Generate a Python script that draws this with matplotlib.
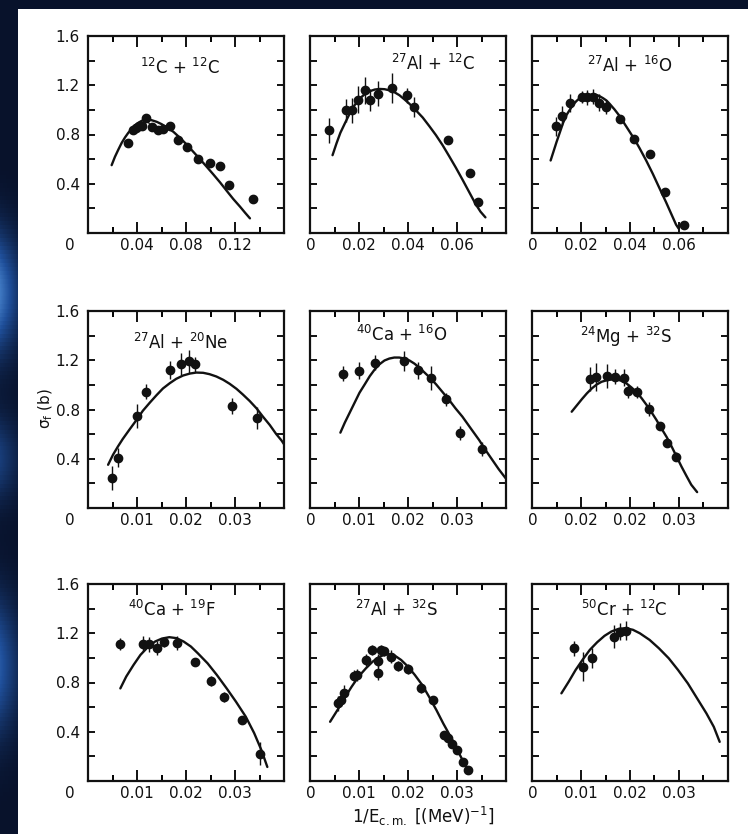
import matplotlib
matplotlib.use("Agg")
import numpy as np
import matplotlib.pyplot as plt
from matplotlib.patches import Rectangle
from matplotlib.colors import LinearSegmentedColormap
from matplotlib.ticker import MultipleLocator, FixedLocator

plt.rcParams['font.family'] = ['DejaVu Sans']
plt.rcParams['mathtext.default'] = 'regular'

# ---------------- data: fission cross sections vs 1/E_cm ----------------
# 12C + 12C
c12c12_x = [0.0329, 0.0365, 0.0392, 0.0420, 0.0440, 0.0473, 0.0520, 0.0574, 0.0615, 0.0669,
            0.0732, 0.0805, 0.0895, 0.0996, 0.1078, 0.1154, 0.1344]
c12c12_y = [0.727, 0.835, 0.854, 0.870, 0.865, 0.930, 0.857, 0.835, 0.843, 0.870,
            0.754, 0.700, 0.605, 0.565, 0.546, 0.389, 0.278]
c12c12_err = [0] * 17
c12c12_fit_x = [0.0193, 0.0220, 0.0248, 0.0275, 0.0302, 0.0329, 0.0357, 0.0384, 0.0411,
                0.0438, 0.0465, 0.0493, 0.0520, 0.0561, 0.0601, 0.0642, 0.0697, 0.0751,
                0.0805, 0.0860, 0.0914, 0.0969, 0.1023, 0.1078, 0.1132, 0.1186, 0.1241,
                0.1282, 0.1322]
c12c12_fit_y = [0.551, 0.619, 0.678, 0.732, 0.776, 0.814, 0.846, 0.876, 0.895,
                0.911, 0.919, 0.922, 0.916, 0.903, 0.884, 0.859, 0.822, 0.773,
                0.719, 0.659, 0.600, 0.538, 0.476, 0.411, 0.343, 0.276, 0.214,
                0.165, 0.119]

# 27Al + 12C
al12c_x = [0.0078, 0.0145, 0.0172, 0.0196, 0.0224, 0.0246, 0.0277, 0.0334, 0.0396, 0.0426,
           0.0564, 0.0655, 0.0686]
al12c_y = [0.835, 0.997, 0.997, 1.084, 1.159, 1.078, 1.132, 1.178, 1.119, 1.024,
           0.754, 0.489, 0.254]
al12c_err = [0.10, 0.095, 0.10, 0.11, 0.11, 0.09, 0.10, 0.12, 0.06, 0.08, 0, 0, 0]
al12c_fit_x = [0.0092, 0.0108, 0.0124, 0.0142, 0.0162, 0.0182, 0.0203, 0.0223, 0.0243,
               0.0264, 0.0284, 0.0304, 0.0324, 0.0345, 0.0365, 0.0385, 0.0405, 0.0432,
               0.0460, 0.0487, 0.0514, 0.0541, 0.0568, 0.0595, 0.0622, 0.0649, 0.0676,
               0.0696, 0.0716]
al12c_fit_y = [0.632, 0.727, 0.814, 0.889, 0.970, 1.038, 1.092, 1.127, 1.151,
               1.165, 1.170, 1.168, 1.159, 1.143, 1.119, 1.086, 1.051, 0.997,
               0.938, 0.868, 0.795, 0.714, 0.624, 0.532, 0.435, 0.335, 0.235,
               0.173, 0.127]

# 27Al + 16O
al16o_x = [0.0098, 0.0121, 0.0154, 0.0203, 0.0226, 0.0247, 0.0272, 0.0300, 0.0358, 0.0416,
           0.0480, 0.0543, 0.0622]
al16o_y = [0.865, 0.954, 1.057, 1.103, 1.103, 1.108, 1.057, 1.022, 0.922, 0.765,
           0.643, 0.332, 0.062]
al16o_err = [0.075, 0.075, 0.075, 0.05, 0.06, 0.06, 0.07, 0.055, 0, 0, 0, 0, 0]
al16o_fit_x = [0.0076, 0.0087, 0.0100, 0.0114, 0.0127, 0.0141, 0.0155, 0.0168, 0.0182,
               0.0195, 0.0209, 0.0222, 0.0236, 0.0249, 0.0263, 0.0276, 0.0290, 0.0304,
               0.0317, 0.0337, 0.0358, 0.0378, 0.0398, 0.0419, 0.0439, 0.0466, 0.0493,
               0.0520, 0.0547, 0.0568, 0.0588, 0.0599]
al16o_fit_y = [0.589, 0.657, 0.738, 0.819, 0.895, 0.959, 1.003, 1.043, 1.073,
               1.095, 1.111, 1.119, 1.122, 1.124, 1.122, 1.111, 1.095, 1.076,
               1.049, 1.003, 0.949, 0.886, 0.824, 0.759, 0.689, 0.589, 0.481,
               0.365, 0.251, 0.157, 0.068, 0.035]

# 27Al + 20Ne
al20ne_x = [0.0048, 0.0061, 0.0101, 0.0118, 0.0167, 0.0190, 0.0207, 0.0218, 0.0294, 0.0344]
al20ne_y = [0.243, 0.410, 0.747, 0.944, 1.119, 1.168, 1.192, 1.168, 0.828, 0.728]
al20ne_err = [0.095, 0.08, 0.10, 0.06, 0.075, 0.09, 0.095, 0.06, 0.065, 0.09]
al20ne_fit_x = [0.0041, 0.0051, 0.0061, 0.0071, 0.0085, 0.0099, 0.0112, 0.0126, 0.0140,
                0.0153, 0.0167, 0.0180, 0.0194, 0.0208, 0.0221, 0.0235, 0.0248, 0.0262,
                0.0276, 0.0289, 0.0303, 0.0316, 0.0330, 0.0344, 0.0357, 0.0371, 0.0384,
                0.0395, 0.0401]
al20ne_fit_y = [0.351, 0.432, 0.499, 0.561, 0.639, 0.715, 0.790, 0.855, 0.917,
                0.971, 1.014, 1.049, 1.076, 1.092, 1.100, 1.098, 1.087, 1.068,
                1.041, 1.009, 0.968, 0.922, 0.869, 0.809, 0.742, 0.674, 0.601,
                0.548, 0.512]

# 40Ca + 16O
ca16o_x = [0.0068, 0.0101, 0.0132, 0.0191, 0.0221, 0.0247, 0.0278, 0.0306, 0.0350]
ca16o_y = [1.092, 1.114, 1.181, 1.195, 1.119, 1.057, 0.882, 0.607, 0.480]
ca16o_err = [0.06, 0.07, 0.06, 0.08, 0.07, 0.10, 0.055, 0.055, 0.06]
ca16o_fit_x = [0.0062, 0.0071, 0.0081, 0.0091, 0.0101, 0.0112, 0.0122, 0.0132, 0.0142,
               0.0152, 0.0162, 0.0172, 0.0182, 0.0193, 0.0203, 0.0213, 0.0223, 0.0233,
               0.0243, 0.0257, 0.0270, 0.0284, 0.0297, 0.0311, 0.0328, 0.0345, 0.0358,
               0.0372, 0.0385, 0.0399]
ca16o_fit_y = [0.612, 0.693, 0.774, 0.855, 0.936, 1.006, 1.071, 1.125, 1.168,
               1.198, 1.214, 1.222, 1.222, 1.214, 1.198, 1.173, 1.141, 1.103,
               1.065, 1.006, 0.944, 0.877, 0.809, 0.742, 0.647, 0.553, 0.472,
               0.391, 0.316, 0.243]

# 24Mg + 32S
mg32s_x = [0.0119, 0.0131, 0.0153, 0.0169, 0.0188, 0.0195, 0.0215, 0.0239, 0.0262, 0.0275, 0.0294]
mg32s_y = [1.047, 1.065, 1.071, 1.065, 1.057, 0.949, 0.944, 0.804, 0.669, 0.526, 0.418]
mg32s_err = [0.10, 0.115, 0.095, 0.06, 0.07, 0.055, 0.05, 0.055, 0, 0, 0.04]
mg32s_fit_x = [0.0081, 0.0092, 0.0102, 0.0112, 0.0122, 0.0132, 0.0142, 0.0153, 0.0163,
               0.0173, 0.0183, 0.0193, 0.0203, 0.0214, 0.0224, 0.0234, 0.0244, 0.0254,
               0.0264, 0.0275, 0.0285, 0.0295, 0.0305, 0.0315, 0.0325, 0.0337]
mg32s_fit_y = [0.782, 0.836, 0.885, 0.931, 0.971, 1.003, 1.025, 1.038, 1.044,
               1.044, 1.033, 1.011, 0.979, 0.939, 0.890, 0.836, 0.777, 0.715,
               0.647, 0.575, 0.499, 0.418, 0.337, 0.262, 0.189, 0.129]

# 40Ca + 19F
ca19f_x = [0.0066, 0.0113, 0.0125, 0.0140, 0.0155, 0.0182, 0.0219, 0.0250, 0.0277, 0.0315, 0.0350]
ca19f_y = [1.111, 1.114, 1.111, 1.078, 1.132, 1.119, 0.970, 0.812, 0.685, 0.494, 0.223]
ca19f_err = [0.05, 0.06, 0.06, 0.055, 0.04, 0.055, 0.03, 0.04, 0.04, 0.03, 0.09]
ca19f_fit_x = [0.0066, 0.0078, 0.0093, 0.0107, 0.0122, 0.0137, 0.0151, 0.0166, 0.0181,
               0.0195, 0.0210, 0.0224, 0.0244, 0.0263, 0.0283, 0.0302, 0.0322, 0.0339,
               0.0354, 0.0366]
ca19f_fit_y = [0.752, 0.848, 0.943, 1.024, 1.087, 1.133, 1.157, 1.168, 1.160,
               1.133, 1.092, 1.038, 0.956, 0.861, 0.752, 0.644, 0.522, 0.390,
               0.250, 0.114]

# 27Al + 32S
al32s_x = [0.0058, 0.0064, 0.0070, 0.0089, 0.0096, 0.0115, 0.0126, 0.0138, 0.0138, 0.0145,
           0.0150, 0.0166, 0.0179, 0.0200, 0.0226, 0.0250, 0.0273, 0.0282, 0.0290, 0.0299,
           0.0313, 0.0322]
al32s_y = [0.630, 0.660, 0.717, 0.853, 0.861, 0.983, 1.065, 0.978, 0.880, 1.065,
           1.052, 1.011, 0.935, 0.907, 0.752, 0.657, 0.372, 0.350, 0.304, 0.250,
           0.155, 0.092]
al32s_err = [0.06, 0.05, 0.06, 0.05, 0.05, 0.05, 0.04, 0.05, 0.06, 0.04,
             0.04, 0.05, 0.04, 0.04, 0.04, 0.03, 0.03, 0.03, 0.03, 0.02,
             0.02, 0.02]
al32s_fit_x = [0.0041, 0.0056, 0.0070, 0.0085, 0.0099, 0.0114, 0.0128, 0.0142, 0.0157,
               0.0171, 0.0186, 0.0200, 0.0214, 0.0229, 0.0243, 0.0258, 0.0272, 0.0287,
               0.0301, 0.0315, 0.0325]
al32s_fit_y = [0.481, 0.576, 0.671, 0.766, 0.847, 0.915, 0.970, 1.010, 1.032,
               1.024, 0.983, 0.929, 0.861, 0.780, 0.684, 0.576, 0.467, 0.359,
               0.250, 0.141, 0.081]

# 50Cr + 12C
cr12c_x = [0.0086, 0.0104, 0.0123, 0.0167, 0.0180, 0.0191]
cr12c_y = [1.078, 0.929, 0.997, 1.173, 1.214, 1.222]
cr12c_err = [0.06, 0.12, 0.08, 0.09, 0.07, 0.08]
cr12c_fit_x = [0.0060, 0.0075, 0.0089, 0.0104, 0.0118, 0.0133, 0.0148, 0.0162, 0.0177,
               0.0191, 0.0206, 0.0220, 0.0240, 0.0259, 0.0279, 0.0298, 0.0318, 0.0337,
               0.0356, 0.0371, 0.0383]
cr12c_fit_y = [0.712, 0.807, 0.902, 0.989, 1.065, 1.127, 1.179, 1.214, 1.236,
               1.241, 1.228, 1.200, 1.146, 1.078, 0.997, 0.902, 0.793, 0.671,
               0.549, 0.440, 0.318]

titles = [r"$^{12}$C + $^{12}$C", r"$^{27}$Al + $^{12}$C", r"$^{27}$Al + $^{16}$O",
          r"$^{27}$Al + $^{20}$Ne", r"$^{40}$Ca + $^{16}$O", r"$^{24}$Mg + $^{32}$S",
          r"$^{40}$Ca + $^{19}$F", r"$^{27}$Al + $^{32}$S", r"$^{50}$Cr + $^{12}$C"]
title_pos = [(0.47, 0.84), (0.63, 0.86), (0.50, 0.85),
             (0.47, 0.84), (0.47, 0.88), (0.48, 0.87),
             (0.43, 0.87), (0.44, 0.87), (0.47, 0.87)]

panels = [
    (c12c12_x, c12c12_y, c12c12_err, c12c12_fit_x, c12c12_fit_y),
    (al12c_x, al12c_y, al12c_err, al12c_fit_x, al12c_fit_y),
    (al16o_x, al16o_y, al16o_err, al16o_fit_x, al16o_fit_y),
    (al20ne_x, al20ne_y, al20ne_err, al20ne_fit_x, al20ne_fit_y),
    (ca16o_x, ca16o_y, ca16o_err, ca16o_fit_x, ca16o_fit_y),
    (mg32s_x, mg32s_y, mg32s_err, mg32s_fit_x, mg32s_fit_y),
    (ca19f_x, ca19f_y, ca19f_err, ca19f_fit_x, ca19f_fit_y),
    (al32s_x, al32s_y, al32s_err, al32s_fit_x, al32s_fit_y),
    (cr12c_x, cr12c_y, cr12c_err, cr12c_fit_x, cr12c_fit_y),
]

# x ranges and tick layout per panel
xmax = [0.16, 0.08, 0.08, 0.04, 0.04, 0.04, 0.04, 0.04, 0.04]
xminor = [0.02, 0.01, 0.01, 0.005, 0.005, 0.005, 0.005, 0.005, 0.005]
xmajor_vals = [[0.04, 0.08, 0.12], [0.02, 0.04, 0.06], [0.02, 0.04, 0.06],
               [0.01, 0.02, 0.03], [0.01, 0.02, 0.03], [0.01, 0.02, 0.03],
               [0.01, 0.02, 0.03], [0.01, 0.02, 0.03], [0.01, 0.02, 0.03]]
xmajor_labels = [["0.04", "0.08", "0.12"], ["0.02", "0.04", "0.06"], ["0.02", "0.04", "0.06"],
                 ["0.01", "0.02", "0.03"], ["0.01", "0.02", "0.03"], ["0.02", "0.02", "0.03"],
                 ["0.01", "0.02", "0.03"], ["0.01", "0.02", "0.03"], ["0.01", "0.02", "0.03"]]
yticks_major = [0.4, 0.8, 1.2, 1.6]
ytick_labels = ["0.4", "0.8", "1.2", "1.6"]

W, H = 748, 834
fig = plt.figure(figsize=(W / 100, H / 100), dpi=100, facecolor="#08122b")

# dark slide frame with a soft blue glow down the left edge
bg = fig.add_axes([0, 0, 18 / W, 1], zorder=-10)
rows = np.linspace(0, 1, 200)[:, None]
glow = (0.55 * np.exp(-((rows - 0.80) / 0.08) ** 2)
        + 0.75 * np.exp(-((rows - 0.35) / 0.07) ** 2)
        + 0.35 * np.exp(-((rows - 0.55) / 0.05) ** 2))
glow = glow * np.linspace(1.0, 0.4, 18)[None, :]
cmap = LinearSegmentedColormap.from_list("edge", ["#08122b", "#1f4f9a", "#5fa0e8"])
bg.imshow(glow, cmap=cmap, vmin=0, vmax=1, aspect="auto", origin="upper", extent=(0, 1, 0, 1))
bg.set_axis_off()

# white page
fig.patches.append(Rectangle((18 / W, 0), 1 - 18 / W, 1 - 9 / H, transform=fig.transFigure,
                             facecolor="white", edgecolor="none", zorder=-5))

col_left = [88, 310, 532]
row_bottom = [233, 508, 781]
pw, ph = 196, 197
fs = 11

ink = "#111111"
for i, (x, y, err, fx, fy) in enumerate(panels):
    r, c = divmod(i, 3)
    ax = fig.add_axes([col_left[c] / W, 1 - row_bottom[r] / H, pw / W, ph / H])
    ax.set_xlim(0, xmax[i])
    ax.set_ylim(0, 1.6)
    for s in ax.spines.values():
        s.set_linewidth(1.6)
        s.set_color(ink)
    ax.xaxis.set_major_locator(FixedLocator(xmajor_vals[i]))
    ax.xaxis.set_minor_locator(MultipleLocator(xminor[i]))
    ax.set_xticklabels(xmajor_labels[i])
    ax.yaxis.set_major_locator(FixedLocator(yticks_major))
    ax.yaxis.set_minor_locator(MultipleLocator(0.2))
    if c == 0:
        ax.set_yticklabels(ytick_labels)
    else:
        ax.set_yticklabels([])
    ax.tick_params(axis="x", which="major", direction="in", length=8, width=1.4,
                   top=True, bottom=True, labelsize=fs, pad=3.5, colors=ink)
    ax.tick_params(axis="x", which="minor", direction="in", length=4, width=1.4,
                   top=True, bottom=True)
    ax.tick_params(axis="y", which="both", direction="in", length=5, width=1.4,
                   left=True, right=True, labelsize=fs, pad=6, colors=ink)
    # origin label
    dx = -18 if c == 0 else 1
    ax.annotate("0", xy=(0, 0), xycoords="axes fraction", xytext=(dx, -5),
                textcoords="offset pixels", ha="center", va="top", fontsize=fs, color=ink)

    ax.plot(fx, fy, color=ink, lw=1.7, solid_capstyle="round", solid_joinstyle="round", zorder=2)
    ax.errorbar(x, y, yerr=err, fmt="o", ms=6, color=ink, ecolor=ink, elinewidth=1.0,
                capsize=0, zorder=3)
    if i == 0:
        # thin line linking the dense low-energy points
        ax.plot(x[2:10], y[2:10], color=ink, lw=0.9, zorder=2)
    ax.text(title_pos[i][0], title_pos[i][1], titles[i], transform=ax.transAxes,
            ha="center", va="center", fontsize=12, color=ink)
    if i == 3:
        ax.set_ylabel(r"$\sigma_f$ (b)", fontsize=fs, color=ink)
        ax.yaxis.set_label_coords(-0.17, 0.505)
    if i == 7:
        ax.set_xlabel(r"1/$E_{\rm c.m.}$ [(MeV)$^{-1}$]", fontsize=fs + 1, color=ink)
        ax.xaxis.set_label_coords(0.58, -0.12)

fig.savefig("out.png", dpi=100, facecolor=fig.get_facecolor())
